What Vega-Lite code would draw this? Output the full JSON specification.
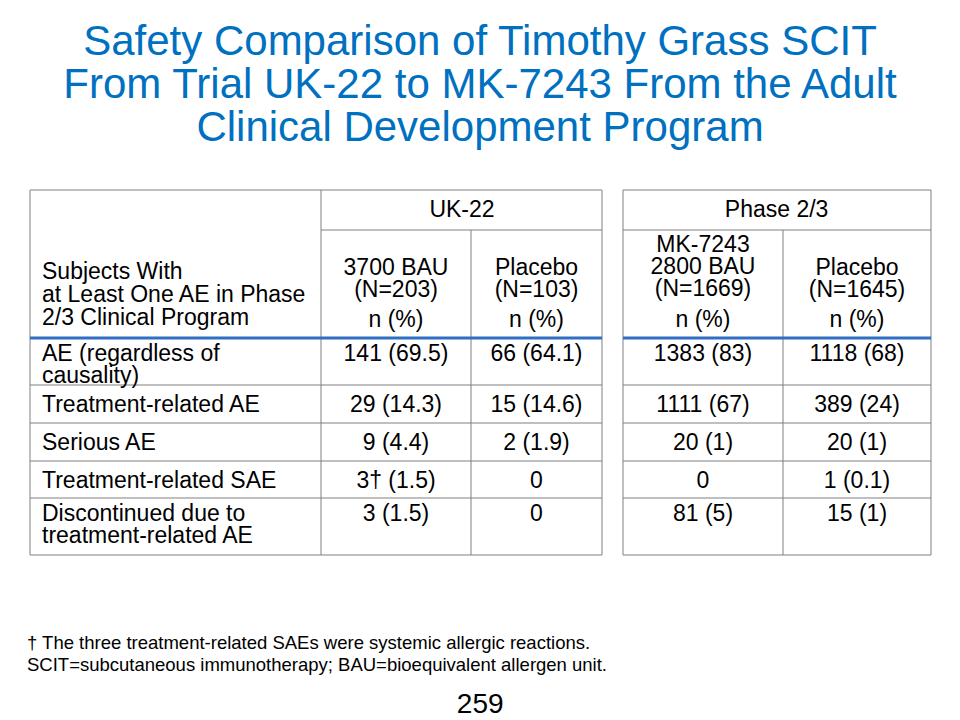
{
"$schema":"https://vega.github.io/schema/vega-lite/v6.json",
"width":960,"height":720,"autosize":{"type":"fit","contains":"padding"},"padding":0,
"background":"white","config":{"view":{"stroke":null},"text":{"font":"Liberation Sans"}},
"datasets":{
"grid":[
{"a":1,"b":4,"c":1,"d":1},{"a":5,"b":7,"c":1,"d":1},
{"a":2,"b":4,"c":2,"d":2},{"a":5,"b":7,"c":2,"d":2},
{"a":1,"b":4,"c":4,"d":4},{"a":5,"b":7,"c":4,"d":4},
{"a":1,"b":4,"c":5,"d":5},{"a":5,"b":7,"c":5,"d":5},
{"a":1,"b":4,"c":6,"d":6},{"a":5,"b":7,"c":6,"d":6},
{"a":1,"b":4,"c":7,"d":7},{"a":5,"b":7,"c":7,"d":7},
{"a":1,"b":4,"c":8,"d":8},{"a":5,"b":7,"c":8,"d":8},
{"a":1,"b":1,"c":1,"d":8},{"a":2,"b":2,"c":1,"d":8},{"a":3,"b":3,"c":2,"d":8},{"a":4,"b":4,"c":1,"d":8},
{"a":5,"b":5,"c":1,"d":8},{"a":6,"b":6,"c":2,"d":8},{"a":7,"b":7,"c":1,"d":8}],
"blue":[{"a":1,"b":4,"c":3,"d":3},{"a":5,"b":7,"c":3,"d":3}],
"groups":[{"x":2.94,"y":1.5,"t":"UK-22"},{"x":5.96,"y":1.5,"t":"Phase 2/3"}],
"colheads2":[{"x":2.5,"t":"3700 BAU\n(N=203)"},{"x":3.5,"t":"Placebo\n(N=103)"},{"x":6.5,"t":"Placebo\n(N=1645)"}],
"colheads3":[{"x":5.5,"t":"MK-7243\n2800 BAU\n(N=1669)"}],
"npct":[{"x":2.5,"t":"n (%)"},{"x":3.5,"t":"n (%)"},{"x":5.5,"t":"n (%)"},{"x":6.5,"t":"n (%)"}],
"labels":[
{"y":3,"m":1,"t":"AE (regardless of\ncausality)"},{"y":4.5,"m":0,"t":"Treatment-related AE"},{"y":5.5,"m":0,"t":"Serious AE"},{"y":6.5,"m":0,"t":"Treatment-related SAE"},{"y":7,"m":1,"t":"Discontinued due to\ntreatment-related AE"}],
"cells":[
{"x":2.5,"y":3,"m":1,"t":"141 (69.5)"},{"x":3.5,"y":3,"m":1,"t":"66 (64.1)"},{"x":5.5,"y":3,"m":1,"t":"1383 (83)"},{"x":6.5,"y":3,"m":1,"t":"1118 (68)"},
{"x":2.5,"y":4.5,"m":0,"t":"29 (14.3)"},{"x":3.5,"y":4.5,"m":0,"t":"15 (14.6)"},{"x":5.5,"y":4.5,"m":0,"t":"1111 (67)"},{"x":6.5,"y":4.5,"m":0,"t":"389 (24)"},
{"x":2.5,"y":5.5,"m":0,"t":"9 (4.4)"},{"x":3.5,"y":5.5,"m":0,"t":"2 (1.9)"},{"x":5.5,"y":5.5,"m":0,"t":"20 (1)"},{"x":6.5,"y":5.5,"m":0,"t":"20 (1)"},
{"x":2.5,"y":6.5,"m":0,"t":"3† (1.5)"},{"x":3.5,"y":6.5,"m":0,"t":"0"},{"x":5.5,"y":6.5,"m":0,"t":"0"},{"x":6.5,"y":6.5,"m":0,"t":"1 (0.1)"},
{"x":2.5,"y":7,"m":1,"t":"3 (1.5)"},{"x":3.5,"y":7,"m":1,"t":"0"},{"x":5.5,"y":7,"m":1,"t":"81 (5)"},{"x":6.5,"y":7,"m":1,"t":"15 (1)"}]
},
"layer":[
{"data":{"name":"grid"},"mark":{"type":"rule","color":"#808080","strokeWidth":1},
 "encoding":{"x":{"field":"a","type":"quantitative","scale":{"domain":[0,1,2,3,4,5,6,7,8],"range":[0,30,321,471,602,623,783,931,960],"nice":false,"zero":false},"axis":null},
 "x2":{"field":"b"},
 "y":{"field":"c","type":"quantitative","scale":{"domain":[0,1,2,3,4,5,6,7,8,9],"range":[0,190,230,338,385,423,461,498,555,720],"nice":false,"zero":false},"axis":null},
 "y2":{"field":"d"}}},
{"data":{"name":"blue"},"mark":{"type":"rule","color":"#2F6FC4","strokeWidth":3},
 "encoding":{"x":{"field":"a","type":"quantitative"},"x2":{"field":"b"},"y":{"field":"c","type":"quantitative"},"y2":{"field":"d"}}},
{"data":{"values":[{"x":4.0,"y":0,"t":"Safety Comparison of Timothy Grass SCIT\nFrom Trial UK-22 to MK-7243 From the Adult\nClinical Development Program"}]},
 "mark":{"type":"text","fontSize":42,"color":"#0070C0","baseline":"top","dy":22,"lineBreak":"\n","lineHeight":43,"align":"center","dx":-122},
 "encoding":{"x":{"field":"x","type":"quantitative"},"y":{"field":"y","type":"quantitative"},"text":{"field":"t"}}},
{"data":{"name":"groups"},"mark":{"type":"text","fontSize":23,"baseline":"middle","align":"center"},
 "encoding":{"x":{"field":"x","type":"quantitative"},"y":{"field":"y","type":"quantitative"},"text":{"field":"t"}}},
{"data":{"name":"colheads2"},"mark":{"type":"text","fontSize":23,"baseline":"top","align":"center","dy":-81,"lineBreak":"\n","lineHeight":22},
 "encoding":{"x":{"field":"x","type":"quantitative"},"y":{"datum":3,"type":"quantitative"},"text":{"field":"t"}}},
{"data":{"name":"colheads3"},"mark":{"type":"text","fontSize":23,"baseline":"top","align":"center","dy":-104,"lineBreak":"\n","lineHeight":22},
 "encoding":{"x":{"field":"x","type":"quantitative"},"y":{"datum":3,"type":"quantitative"},"text":{"field":"t"}}},
{"data":{"name":"npct"},"mark":{"type":"text","fontSize":23,"baseline":"bottom","align":"center","dy":-6},
 "encoding":{"x":{"field":"x","type":"quantitative"},"y":{"datum":3,"type":"quantitative"},"text":{"field":"t"}}},
{"data":{"values":[{"t":"Subjects With\nat Least One AE in Phase\n2/3 Clinical Program"}]},"mark":{"type":"text","fontSize":23,"baseline":"top","align":"left","dx":12,"dy":-77,"lineBreak":"\n","lineHeight":23},
 "encoding":{"x":{"datum":1,"type":"quantitative"},"y":{"datum":3,"type":"quantitative"},"text":{"field":"t"}}},
{"data":{"name":"labels"},"transform":[{"filter":"datum.m == 1"}],"mark":{"type":"text","fontSize":23,"baseline":"top","align":"left","dx":12,"dy":5,"lineBreak":"\n","lineHeight":22},
 "encoding":{"x":{"datum":1,"type":"quantitative"},"y":{"field":"y","type":"quantitative"},"text":{"field":"t"}}},
{"data":{"name":"labels"},"transform":[{"filter":"datum.m == 0"}],"mark":{"type":"text","fontSize":23,"baseline":"middle","align":"left","dx":12,"dy":1},
 "encoding":{"x":{"datum":1,"type":"quantitative"},"y":{"field":"y","type":"quantitative"},"text":{"field":"t"}}},
{"data":{"name":"cells"},"transform":[{"filter":"datum.m == 1"}],"mark":{"type":"text","fontSize":23,"baseline":"top","align":"center","dy":5},
 "encoding":{"x":{"field":"x","type":"quantitative"},"y":{"field":"y","type":"quantitative"},"text":{"field":"t"}}},
{"data":{"name":"cells"},"transform":[{"filter":"datum.m == 0"}],"mark":{"type":"text","fontSize":23,"baseline":"middle","align":"center","dy":1},
 "encoding":{"x":{"field":"x","type":"quantitative"},"y":{"field":"y","type":"quantitative"},"text":{"field":"t"}}},
{"data":{"values":[{"t":"† The three treatment-related SAEs were systemic allergic reactions.\nSCIT=subcutaneous immunotherapy; BAU=bioequivalent allergen unit."}]},"mark":{"type":"text","fontSize":18.5,"baseline":"top","align":"left","dx":-3,"dy":-86,"lineBreak":"\n","lineHeight":22},
 "encoding":{"x":{"datum":1,"type":"quantitative"},"y":{"datum":9,"type":"quantitative"},"text":{"field":"t"}}},
{"data":{"values":[{"t":"259"}]},"mark":{"type":"text","fontSize":28,"baseline":"middle","align":"center","dy":-15},
 "encoding":{"x":{"datum":3.07,"type":"quantitative"},"y":{"datum":9,"type":"quantitative"},"text":{"field":"t"}}}
]
}
